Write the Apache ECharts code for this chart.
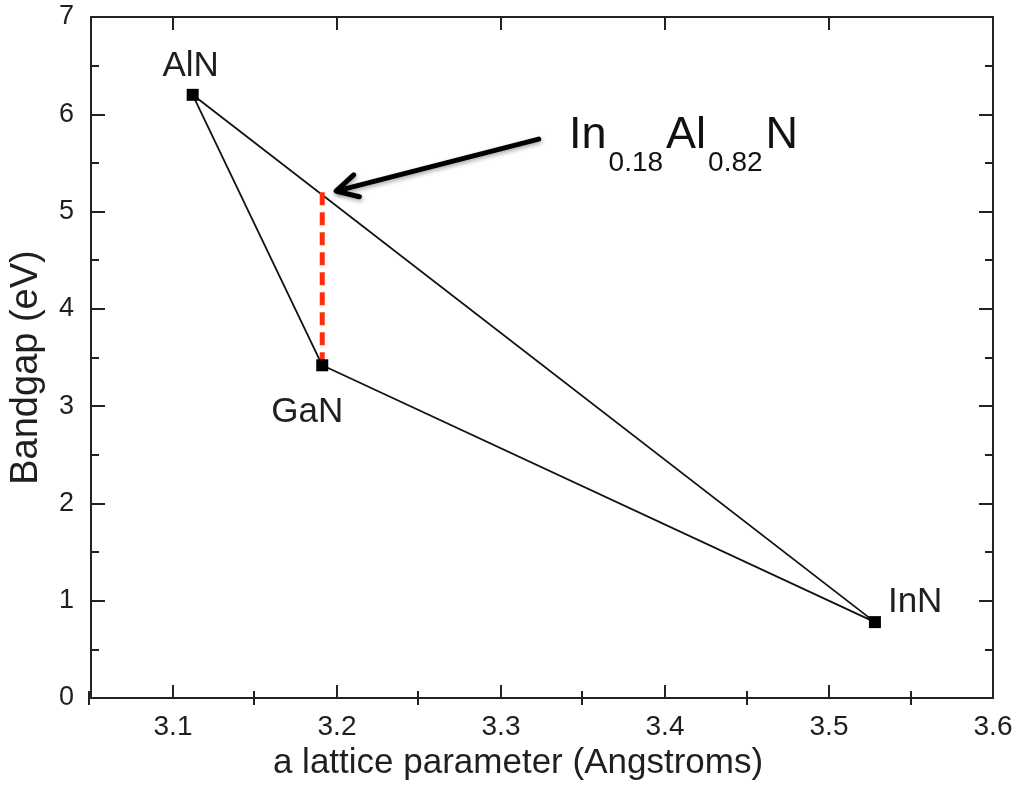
<!DOCTYPE html>
<html>
<head>
<meta charset="utf-8">
<script src="https://cdn.jsdelivr.net/npm/echarts@6/dist/echarts.min.js"></script>
<style>
html,body{margin:0;padding:0;background:#fff;}
#chart{width:1018px;height:801px;}
</style>
</head>
<body>
<div id="chart"></div>
<script>
// ---- data ----
const compounds = ['AlN', 'GaN', 'InN'];
const latticeA = [3.112, 3.191, 3.528];
const bandgapEV = [6.20, 3.42, 0.78];
const triangleOrder = [0, 1, 2, 0];
const xTickValues = [3.1, 3.2, 3.3, 3.4, 3.5, 3.6];
const xMinorTickValues = [3.05, 3.15, 3.25, 3.35, 3.45, 3.55];
const yTickValues = [0, 1, 2, 3, 4, 5, 6, 7];
const dropLineX = [3.191, 3.191];
const dropLineY = [3.42, 5.22];
const arrowTail = [3.323, 5.745];
const arrowHead = [3.1994, 5.21];
const annotationAnchor = [3.3415, 6.01];
const annotationParts = [['In', 'main'], ['0.18', 'sub'], ['Al', 'main'], ['0.82', 'sub'], ['N', 'main']];

// ---- presentation ----
const FONT = '"Liberation Sans", Arial, Helvetica, sans-serif';
const AXIS_COLOR = '#222';
const TEXT_COLOR = '#1f1f1f';
const labelPlacement = {
  AlN: { position: 'top', distance: 5, offset: [-2, 0] },
  GaN: { position: 'bottom', distance: 24, offset: [-15, 0] },
  InN: { position: 'right', distance: 7, offset: [0, -20] }
};
const gridRect = { left: 89, right: 25, top: 17, bottom: 103 };
const xMin = 3.05, xMax = 3.6, yMin = 0, yMax = 7;

const chart = echarts.init(document.getElementById('chart'));

const triangleData = triangleOrder.map(i => [latticeA[i], bandgapEV[i]]);
const pointData = compounds.map((c, i) => ({
  name: c,
  value: [latticeA[i], bandgapEV[i]],
  label: Object.assign({ show: true, formatter: c, fontFamily: FONT, fontSize: 35, color: TEXT_COLOR }, labelPlacement[c])
}));
const dropData = dropLineX.map((x, i) => [x, dropLineY[i]]);

const axisLineStyle = { color: AXIS_COLOR, width: 2 };

function majorX(pos, withLabels) {
  return {
    type: 'value', gridIndex: 0, min: xMin, max: xMax, position: pos,
    axisLine: { show: true, onZero: false, lineStyle: axisLineStyle },
    axisTick: { show: true, inside: true, length: 13, lineStyle: axisLineStyle, customValues: xTickValues },
    axisLabel: withLabels ? {
      show: true, customValues: xTickValues, margin: 15,
      formatter: v => Number(v).toFixed(1),
      fontFamily: FONT, fontSize: 28, color: TEXT_COLOR
    } : { show: false },
    splitLine: { show: false },
    name: withLabels ? 'a lattice parameter (Angstroms)' : '',
    nameLocation: 'middle', nameGap: 45,
    nameTextStyle: { fontFamily: FONT, fontSize: 35, color: TEXT_COLOR, padding: [0, 48, 0, 0] }
  };
}
function minorX(pos) {
  return {
    type: 'value', gridIndex: 1, min: xMin, max: xMax, position: pos,
    axisLine: { show: false },
    axisTick: { show: true, inside: true, length: 7, lineStyle: axisLineStyle, customValues: xMinorTickValues },
    axisLabel: { show: false }, splitLine: { show: false }
  };
}
function yAx(pos, withLabels) {
  return {
    type: 'value', gridIndex: 0, min: yMin, max: yMax, interval: 1, position: pos,
    axisLine: { show: true, onZero: false, lineStyle: axisLineStyle },
    axisTick: { show: true, inside: true, length: 14, lineStyle: axisLineStyle },
    minorTick: { show: true, splitNumber: 2, length: 8, lineStyle: axisLineStyle },
    axisLabel: withLabels ? {
      show: true, margin: 17, customValues: yTickValues,
      fontFamily: FONT, fontSize: 27, color: TEXT_COLOR
    } : { show: false },
    splitLine: { show: false }, minorSplitLine: { show: false },
    name: withLabels ? 'Bandgap (eV)' : '',
    nameLocation: 'middle', nameGap: 45,
    nameTextStyle: { fontFamily: FONT, fontSize: 38, color: TEXT_COLOR, padding: [0, 20, 0, 0] }
  };
}

function renderArrow(params, api) {
  const tail = api.coord([api.value(0), api.value(1)]);
  const head = api.coord([api.value(2), api.value(3)]);
  const dx = tail[0] - head[0], dy = tail[1] - head[1];
  const ang = Math.atan2(dy, dx);
  const armLen = 24, spread = 28 * Math.PI / 180;
  const a1 = [head[0] + armLen * Math.cos(ang - spread), head[1] + armLen * Math.sin(ang - spread)];
  const a2 = [head[0] + armLen * Math.cos(ang + spread), head[1] + armLen * Math.sin(ang + spread)];
  const anchor = api.coord(annotationAnchor);
  const txt = annotationParts.map(p => '{' + p[1] + '|' + p[0] + '}').join('');
  const stroke = { stroke: '#000', lineWidth: 5, fill: null, lineCap: 'round', lineJoin: 'round',
                   shadowBlur: 4, shadowColor: 'rgba(0,0,0,0.35)', shadowOffsetX: 1, shadowOffsetY: 2 };
  return {
    type: 'group',
    children: [
      { type: 'polyline', shape: { points: [tail, [head[0] + 2 * Math.cos(ang), head[1] + 2 * Math.sin(ang)]] }, style: stroke },
      { type: 'polyline', shape: { points: [a1, head, a2] }, style: stroke },
      {
        type: 'text', x: anchor[0], y: anchor[1],
        style: {
          text: txt, align: 'left', verticalAlign: 'top',
          rich: {
            main: { fontFamily: FONT, fontSize: 45, lineHeight: 46, verticalAlign: 'top', fill: '#111', color: '#111' },
            sub: { fontFamily: FONT, fontSize: 28, lineHeight: 28, verticalAlign: 'top', padding: [36, 3, 0, 2], fill: '#111', color: '#111' }
          }
        }
      }
    ]
  };
}

const option = {
  backgroundColor: '#ffffff',
  animation: false,
  grid: [Object.assign({}, gridRect), Object.assign({}, gridRect)],
  xAxis: [majorX('bottom', true), majorX('top', false), minorX('bottom'), minorX('top')],
  yAxis: [yAx('left', true), yAx('right', false),
          { type: 'value', gridIndex: 1, min: yMin, max: yMax, show: false },
          { type: 'value', gridIndex: 1, min: yMin, max: yMax, show: false, position: 'right' }],
  series: [
    {
      name: 'triangle', type: 'line', xAxisIndex: 0, yAxisIndex: 0,
      data: triangleData, symbol: 'none', silent: true,
      lineStyle: { color: '#111', width: 1.8 }, z: 2
    },
    {
      name: 'InAlN lattice-matched', type: 'line', xAxisIndex: 0, yAxisIndex: 0,
      data: dropData, symbol: 'none',
      lineStyle: { color: '#ff2d0a', width: 5, type: [13, 7] }, z: 3
    },
    {
      name: 'compounds', type: 'scatter', xAxisIndex: 0, yAxisIndex: 0,
      data: pointData, symbol: 'rect', symbolSize: 12,
      itemStyle: { color: '#000', opacity: 1 },
      z: 4
    },
    {
      name: 'annotation', type: 'custom', xAxisIndex: 0, yAxisIndex: 0,
      data: [[arrowTail[0], arrowTail[1], arrowHead[0], arrowHead[1]]],
      encode: { x: [0, 2], y: [1, 3] },
      renderItem: renderArrow, z: 5, silent: true
    }
  ]
};
chart.setOption(option);
</script>
</body>
</html>
